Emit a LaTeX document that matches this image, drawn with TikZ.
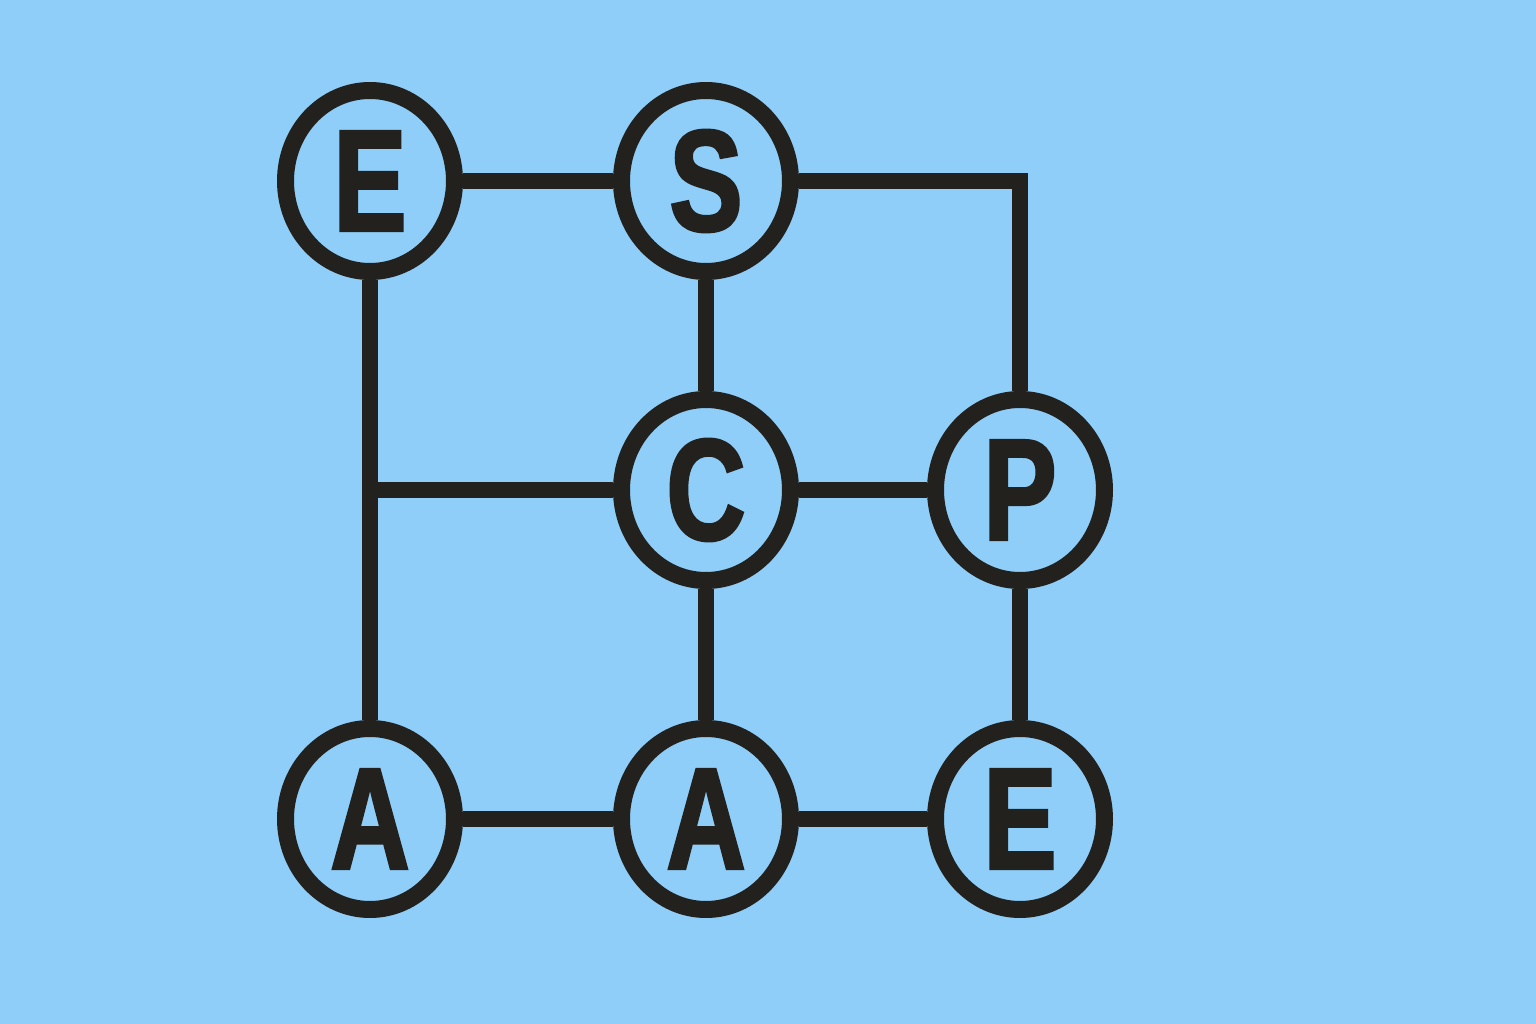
\documentclass[tikz,border=0pt]{standalone}
\usepackage{fontspec}
\newfontfamily\labfont{Liberation Sans Bold}[FakeStretch=0.76, FakeBold=2]
\usetikzlibrary{shapes.geometric}
\definecolor{bg}{HTML}{8ECEF9}
\definecolor{ink}{HTML}{23211E}
\tikzset{
  vtx/.style={ellipse, draw=ink, line width=1.7mm, inner sep=0pt,
    minimum width=16.9mm, minimum height=18.1mm, text=ink,
    font=\fontsize{41}{41}\labfont},
  wire/.style={draw=ink, line width=1.55mm, line join=miter}
}
\begin{document}
\begin{tikzpicture}[x=0.1mm, y=-0.1mm]
\fill[bg] (0,0) rectangle (1536,1024);
\useasboundingbox (0,0) rectangle (1536,1024);
\node[vtx] (e1) at (370,181) {E};
\node[vtx] (s)  at (706,181) {S};
\node[vtx] (c)  at (706,490) {C};
\node[vtx] (p)  at (1020,490) {P};
\node[vtx] (a1) at (370,819) {A};
\node[vtx] (a2) at (706,819) {A};
\node[vtx] (e2) at (1020,819) {E};
\coordinate (j) at (e1 |- c);
\draw[wire] (e1) -- (s);
\draw[wire] (s) -| (p);
\draw[wire] (s) -- (c);
\draw[wire] (e1) -- (a1);
\draw[wire] (j) -- (c);
\draw[wire] (c) -- (p);
\draw[wire] (c) -- (a2);
\draw[wire] (p) -- (e2);
\draw[wire] (a1) -- (a2);
\draw[wire] (a2) -- (e2);
\end{tikzpicture}
\end{document}
